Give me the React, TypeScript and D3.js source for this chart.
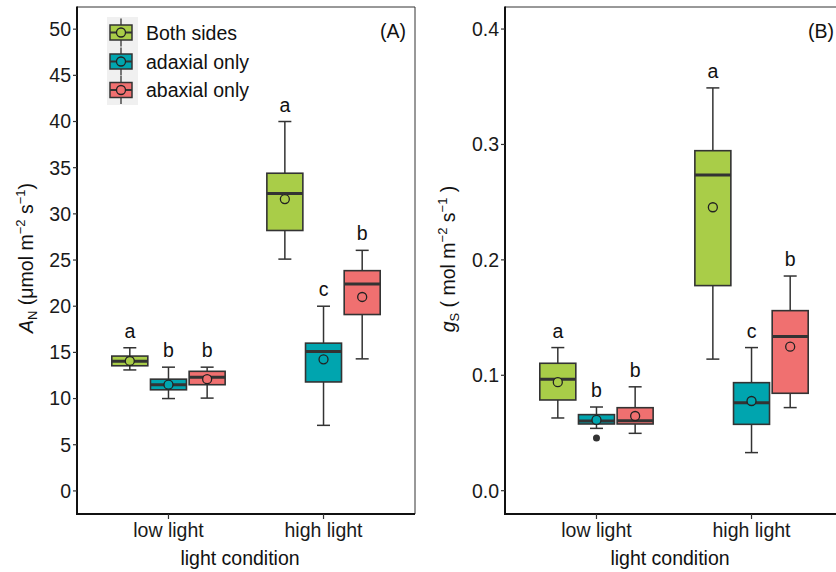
import React from "react";
import * as d3 from "d3";

const categories = ["low light", "high light"];
const groups = ["Both sides", "adaxial only", "abaxial only"];
const groupColors = ["#A9CD48", "#00A5AF", "#F07070"];

// order: low-both, low-adax, low-abax, high-both, high-adax, high-abax
const anMin = [13.1, 10.0, 10.05, 25.1, 7.1, 14.3];
const anQ1 = [13.55, 10.95, 11.5, 28.2, 11.8, 19.1];
const anMedian = [14.05, 11.5, 12.3, 32.2, 15.1, 22.4];
const anQ3 = [14.6, 12.1, 12.95, 34.4, 16.0, 23.85];
const anMax = [15.5, 13.4, 13.4, 40.0, 20.0, 26.05];
const anMean = [14.07, 11.5, 12.1, 31.6, 14.25, 21.0];
const anLetters = ["a", "b", "b", "a", "c", "b"];
const anOutliers: { idx: number; value: number }[] = [];
const anTicks = [0, 5, 10, 15, 20, 25, 30, 35, 40, 45, 50];

const gsMin = [0.063, 0.054, 0.0497, 0.114, 0.033, 0.072];
const gsQ1 = [0.0786, 0.0578, 0.0578, 0.1777, 0.0575, 0.0844];
const gsMedian = [0.0965, 0.0604, 0.0607, 0.2736, 0.0763, 0.1335];
const gsQ3 = [0.1104, 0.0659, 0.0719, 0.2946, 0.0936, 0.156];
const gsMax = [0.124, 0.0725, 0.09, 0.349, 0.124, 0.186];
const gsMean = [0.094, 0.0613, 0.0647, 0.2456, 0.0777, 0.1248];
const gsLetters = ["a", "b", "b", "a", "c", "b"];
const gsOutliers = [{ idx: 1, value: 0.0457 }];
const gsTicks = [0.0, 0.1, 0.2, 0.3, 0.4];

const FONT = "'Liberation Sans', Arial, Helvetica, sans-serif";
const FS = 19.5;
const TOP = 7;
const BOTTOM = 514;
const PW = 338;

type PanelProps = {
  x0: number;
  domain: [number, number];
  ticks: number[];
  fmt: (v: number) => string;
  mins: number[];
  q1: number[];
  med: number[];
  q3: number[];
  maxs: number[];
  means: number[];
  letters: string[];
  outliers: { idx: number; value: number }[];
  label: string;
  xTitleX: number;
  yTitle: React.ReactNode;
  legend?: boolean;
};

function Panel(p: PanelProps) {
  const y = d3.scaleLinear().domain(p.domain).range([BOTTOM, TOP]);
  const xc = d3.scalePoint<string>().domain(categories).range([p.x0, p.x0 + PW]).padding(0.59);
  const xg = d3.scalePoint<string>().domain(groups).range([-58, 58]).padding(0.5);
  const boxW = 36;
  const capW = 13;
  const items: React.ReactNode[] = [];
  categories.forEach((c, ci) => {
    groups.forEach((g, gi) => {
      const i = ci * groups.length + gi;
      const cx = (xc(c) as number) + (xg(g) as number);
      const col = groupColors[gi];
      items.push(
        <g key={`b${i}`}>
          <line x1={cx} x2={cx} y1={y(p.q3[i])} y2={y(p.maxs[i])} stroke="#333" strokeWidth={1.5} />
          <line x1={cx} x2={cx} y1={y(p.q1[i])} y2={y(p.mins[i])} stroke="#333" strokeWidth={1.5} />
          <line x1={cx - capW / 2} x2={cx + capW / 2} y1={y(p.maxs[i])} y2={y(p.maxs[i])} stroke="#333" strokeWidth={1.5} />
          <line x1={cx - capW / 2} x2={cx + capW / 2} y1={y(p.mins[i])} y2={y(p.mins[i])} stroke="#333" strokeWidth={1.5} />
          <rect x={cx - boxW / 2} width={boxW} y={y(p.q3[i])} height={y(p.q1[i]) - y(p.q3[i])} fill={col} stroke="#333" strokeWidth={1.6} />
          <line x1={cx - boxW / 2} x2={cx + boxW / 2} y1={y(p.med[i])} y2={y(p.med[i])} stroke="#333" strokeWidth={3} />
          <circle cx={cx} cy={y(p.means[i])} r={4.5} fill={col} stroke="#222" strokeWidth={1.3} />
          <text x={cx} y={y(p.maxs[i]) - 10} textAnchor="middle" fontSize={FS} fill="#111">{p.letters[i]}</text>
        </g>
      );
    });
  });
  p.outliers.forEach((o, k) => {
    const ci = Math.floor(o.idx / groups.length);
    const gi = o.idx % groups.length;
    const cx = (xc(categories[ci]) as number) + (xg(groups[gi]) as number);
    items.push(<circle key={`o${k}`} cx={cx} cy={y(o.value)} r={3.5} fill="#333" />);
  });

  const x1 = p.x0 + PW;
  return (
    <g fontFamily={FONT}>
      {/* thin border top/right */}
      <line x1={p.x0} x2={x1} y1={TOP} y2={TOP} stroke="#333" strokeWidth={1} />
      <line x1={x1} x2={x1} y1={TOP} y2={BOTTOM} stroke="#333" strokeWidth={1} />
      {p.legend && <Legend />}
      {items}
      {/* axes */}
      <line x1={p.x0} x2={p.x0} y1={TOP - 0.5} y2={BOTTOM + 1} stroke="#111" strokeWidth={2} />
      <line x1={p.x0 - 1} x2={x1} y1={BOTTOM} y2={BOTTOM} stroke="#111" strokeWidth={2} />
      {p.ticks.map((t) => (
        <g key={`t${t}`}>
          <line x1={p.x0 - 4} x2={p.x0} y1={y(t)} y2={y(t)} stroke="#333" strokeWidth={1.2} />
          <text x={p.x0 - 6} y={y(t)} dy="0.35em" textAnchor="end" fontSize={FS} fill="#1a1a1a">{p.fmt(t)}</text>
        </g>
      ))}
      {categories.map((c) => (
        <g key={c}>
          <line x1={xc(c)} x2={xc(c)} y1={BOTTOM} y2={BOTTOM + 5} stroke="#333" strokeWidth={1.2} />
          <text x={xc(c)} y={BOTTOM + 23} textAnchor="middle" fontSize={FS} fill="#1a1a1a">{c}</text>
        </g>
      ))}
      <text x={p.xTitleX} y={BOTTOM + 51} textAnchor="middle" fontSize={FS} fill="#111">light condition</text>
      <text x={x1 - 9} y={38} textAnchor="end" fontSize={FS} fill="#111">{p.label}</text>
      {p.yTitle}
    </g>
  );
}

function Legend() {
  const rows = [32.5, 61.5, 90];
  return (
    <g>
      <rect x={107} y={17} width={31} height={88} fill="#f0f0f0" />
      {groups.map((g, i) => {
        const cy = rows[i];
        return (
          <g key={g}>
            <line x1={121} x2={121} y1={cy - 14} y2={cy + 14} stroke="#333" strokeWidth={1.3} />
            <rect x={110} y={cy - 7.5} width={22} height={15} fill={groupColors[i]} stroke="#333" strokeWidth={1.5} />
            <line x1={110} x2={132} y1={cy} y2={cy} stroke="#333" strokeWidth={2} />
            <circle cx={121} cy={cy} r={4.5} fill={groupColors[i]} stroke="#222" strokeWidth={1.3} />
            <text x={146} y={cy + 7} fontSize={FS} fill="#111">{g}</text>
          </g>
        );
      })}
    </g>
  );
}

export default function App() {
  const sub = 13;
  const yTitleA = (
    <text transform="translate(33,258) rotate(-90)" textAnchor="middle" fontSize={FS} fill="#111">
      <tspan fontStyle="italic">A</tspan>
      <tspan fontSize={sub} dy={4}>N</tspan>
      <tspan dy={-4}> (μmol m</tspan>
      <tspan fontSize={sub} dy={-8}>−2</tspan>
      <tspan dy={8}> s</tspan>
      <tspan fontSize={sub} dy={-8}>−1</tspan>
      <tspan dy={8}>)</tspan>
    </text>
  );
  const yTitleB = (
    <text transform="translate(455,259) rotate(-90)" textAnchor="middle" fontSize={FS} fill="#111">
      <tspan fontStyle="italic">g</tspan>
      <tspan fontSize={sub} dy={4}>S</tspan>
      <tspan dy={-4}> ( mol m</tspan>
      <tspan fontSize={sub} dy={-8}>−2</tspan>
      <tspan dy={8}> s</tspan>
      <tspan fontSize={sub} dy={-8}>−1</tspan>
      <tspan dy={8}> )</tspan>
    </text>
  );
  return (
    <div style={{ position: "fixed", left: 0, top: 0 }}>
      <svg width={836} height={572} style={{ display: "block", background: "#fff" }}>
        <Panel
          x0={77}
          domain={[-2.5, 52.4]}
          ticks={anTicks}
          fmt={(v) => d3.format("d")(v)}
          mins={anMin}
          q1={anQ1}
          med={anMedian}
          q3={anQ3}
          maxs={anMax}
          means={anMean}
          letters={anLetters}
          outliers={anOutliers}
          label="(A)"
          xTitleX={240}
          yTitle={yTitleA}
          legend
        />
        <Panel
          x0={505}
          domain={[-0.0202, 0.4191]}
          ticks={gsTicks}
          fmt={(v) => d3.format(".1f")(v)}
          mins={gsMin}
          q1={gsQ1}
          med={gsMedian}
          q3={gsQ3}
          maxs={gsMax}
          means={gsMean}
          letters={gsLetters}
          outliers={gsOutliers}
          label="(B)"
          xTitleX={670}
          yTitle={yTitleB}
        />
      </svg>
    </div>
  );
}
